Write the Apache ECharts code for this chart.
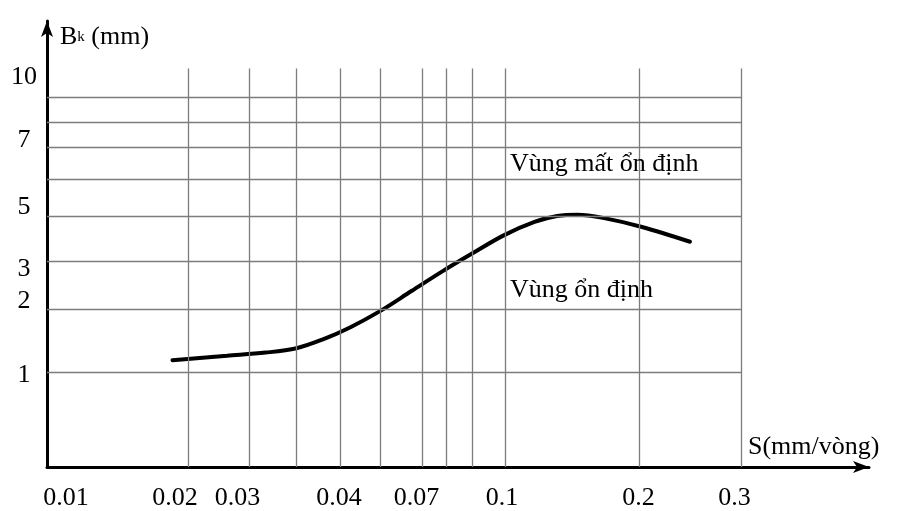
<!DOCTYPE html>
<html><head><meta charset="utf-8">
<script src="https://cdn.jsdelivr.net/npm/echarts@6/dist/echarts.min.js"></script>
<style>html,body{margin:0;padding:0;background:#fff}#c{width:898px;height:511px}</style>
</head><body><div id="c"></div>
<script>
// ---------------- data ----------------
// curve: feed S (mm/vòng) vs chip width Bk (mm)
const feedS   = [0.0189, 0.0264, 0.0335, 0.040, 0.046, 0.0524, 0.060, 0.0675, 0.0783, 0.090, 0.0996, 0.122, 0.139, 0.154, 0.174, 0.203, 0.250];
const widthBk = [1.19,   1.26,   1.31,   1.38,  1.52,  1.71,   1.97,  2.38,   2.79,   3.35,  4.14,   4.73,  4.99,  5.03,  4.90,  4.51,  3.86];
// tick labels as printed on the chart
const xTickLabels = ['0.01', '0.02', '0.03', '0.04', '0.07', '0.1', '0.2', '0.3'];
const yTickLabels = ['1', '2', '3', '5', '7', '10'];
// values of the drawn grid lines
const xGridValues = [0.01, 0.02, 0.03, 0.04, 0.05, 0.06, 0.07, 0.08, 0.09, 0.1, 0.2, 0.3];
const yGridValues = [0, 1, 2, 3, 5, 6, 7, 8, 10];

// ---------------- layout: hand-drawn (non-uniform) scale, in axis units ----------------
const xGridUnits = [0, 141, 202, 249.5, 293.5, 333, 375, 399.5, 425.5, 458, 592, 694];
const yGridUnits = [0, 96, 159.5, 208, 254, 291, 323, 349, 374];
const xLabelUnits = [19, 128, 190.5, 292, 369.5, 455, 591.5, 687.5];
const yLabelUnits = [92.5, 167.5, 200, 263, 330, 394];
const vLineTop = 403;
const FONT = '"Liberation Serif", "Times New Roman", serif';

function warp(v, vals, units) {
  for (let i = 0; i < vals.length - 1; i++) {
    if (v <= vals[i + 1] || i === vals.length - 2) {
      return units[i] + (v - vals[i]) / (vals[i + 1] - vals[i]) * (units[i + 1] - units[i]);
    }
  }
}
const wx = v => warp(v, xGridValues, xGridUnits);
const wy = v => warp(v, yGridValues, yGridUnits);

const gridLines = [];
xGridValues.slice(1).forEach(v => gridLines.push([{ coord: [wx(v), 0] }, { coord: [wx(v), vLineTop] }]));
yGridValues.slice(1).forEach(v => gridLines.push([{ coord: [0, wy(v)] }, { coord: [wx(xGridValues[xGridValues.length - 1]), wy(v)] }]));

const curve = feedS.map((s, i) => [wx(s), wy(widthBk[i])]);

const chart = echarts.init(document.getElementById('c'), null, { renderer: 'canvas' });
chart.setOption({
  animation: false,
  backgroundColor: '#fff',
  grid: { left: 47, right: 29, top: 21, bottom: 39, containLabel: false },
  xAxis: {
    type: 'value', min: 0, max: 822,
    name: 'S(mm/vòng)', nameLocation: 'end', nameGap: -121,
    nameTextStyle: { fontFamily: FONT, fontSize: 26, color: '#000', align: 'left', verticalAlign: 'bottom', padding: [0, 0, 7, 0] },
    axisLine: { show: true, symbol: ['none', 'arrow'], symbolSize: [9, 16], lineStyle: { color: '#000', width: 3 } },
    axisTick: { show: false },
    splitLine: { show: false },
    axisLabel: {
      customValues: xLabelUnits, margin: 18,
      fontFamily: FONT, fontSize: 26, color: '#000',
      formatter: v => xTickLabels[xLabelUnits.indexOf(v)] || ''
    }
  },
  yAxis: {
    type: 'value', min: 0, max: 451,
    name: 'B{k|k} (mm)', nameLocation: 'end', nameGap: -16,
    nameTextStyle: { fontFamily: FONT, fontSize: 26, color: '#000', align: 'left', verticalAlign: 'middle', padding: [0, 0, 0, 13],
      rich: { k: { fontFamily: FONT, fontSize: 15, color: '#000' } } },
    axisLine: { show: true, symbol: ['none', 'arrow'], symbolSize: [9, 16], lineStyle: { color: '#000', width: 3 } },
    axisTick: { show: false },
    splitLine: { show: false },
    axisLabel: {
      customValues: yLabelUnits, margin: 23, align: 'center',
      fontFamily: FONT, fontSize: 26, color: '#000',
      formatter: v => yTickLabels[yLabelUnits.indexOf(v)] || ''
    }
  },
  series: [
    {
      type: 'line', data: [], z: 1, silent: true,
      markLine: {
        silent: true, symbol: ['none', 'none'], animation: false,
        label: { show: false },
        lineStyle: { color: '#7c7c7c', width: 1.3, type: 'solid' },
        emphasis: { disabled: true },
        data: gridLines
      }
    },
    {
      type: 'line', data: curve, z: 3, smooth: 0.35, showSymbol: false, silent: true,
      lineStyle: { color: '#000', width: 4, cap: 'round' }
    }
  ],
  graphic: [
    { type: 'text', z: 10, style: { x: 510, y: 164, text: 'Vùng mất ổn định', font: '26px ' + FONT, fill: '#000', verticalAlign: 'middle', align: 'left' } },
    { type: 'text', z: 10, style: { x: 510, y: 290, text: 'Vùng ổn định', font: '26px ' + FONT, fill: '#000', verticalAlign: 'middle', align: 'left' } }
  ]
});
</script>
</body></html>
